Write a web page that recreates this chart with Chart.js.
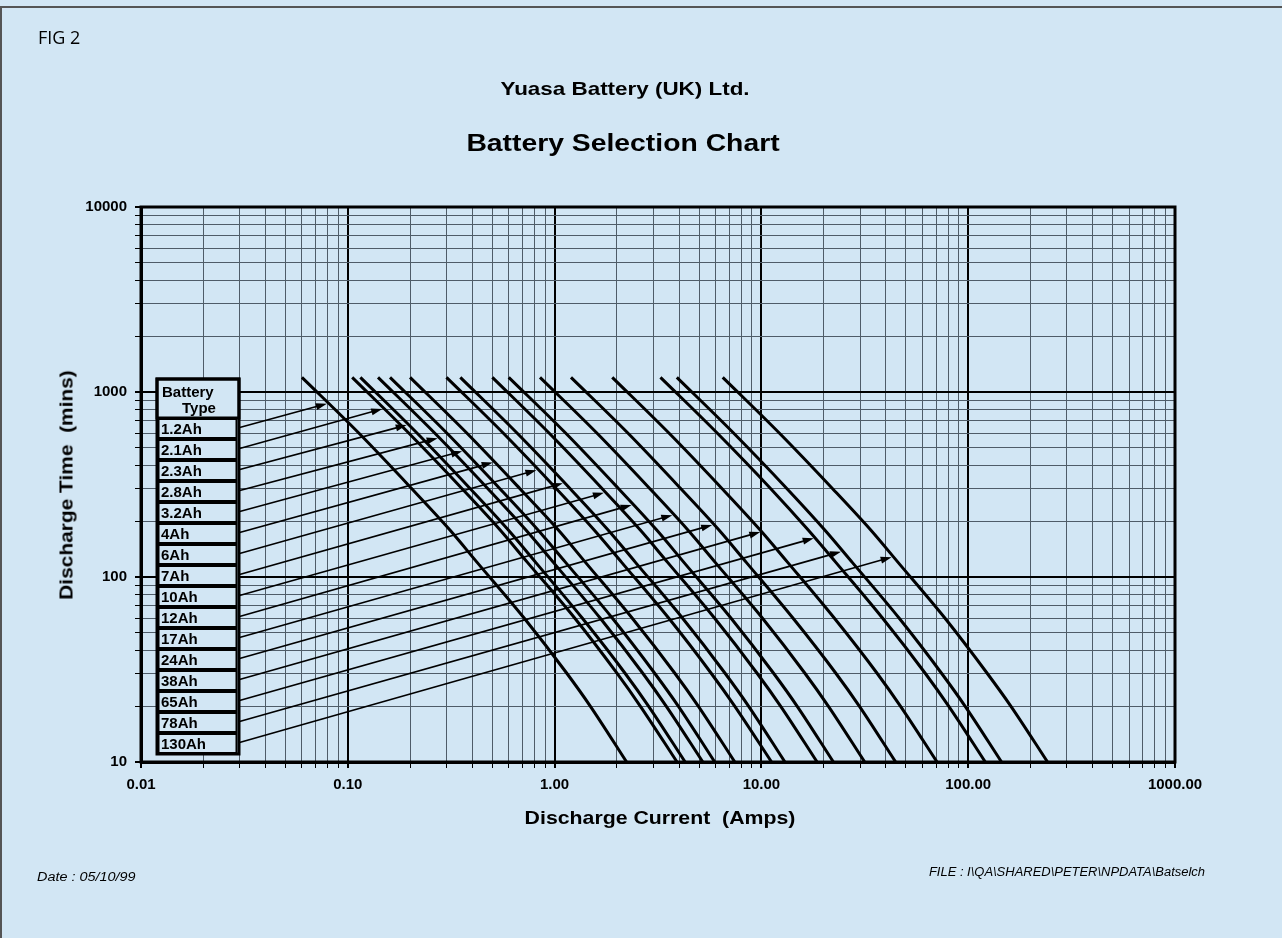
<!DOCTYPE html>
<html>
<head>
<meta charset="utf-8">
<title>Battery Selection Chart</title>
<script src="https://cdn.jsdelivr.net/npm/chart.js@4.4.1/dist/chart.umd.min.js"></script>
<style>
  html, body { margin: 0; padding: 0; background: #d2e6f4; }
  #page { position: relative; width: 1282px; height: 938px; overflow: hidden; background: #d2e6f4;
          font-family: 'Liberation Sans', Arial, sans-serif; color: #000; }
  #frame { position: absolute; left: 0; top: 6px; width: 1300px; height: 960px;
           border-left: 2px solid #555; border-top: 2px solid #555; }
  #chart { position: absolute; left: 0; top: 0; }
  .txt { position: absolute; white-space: nowrap; line-height: 1; }
  .bold { font-weight: bold; }
  .note { font-style: italic; font-size: 12px; }
</style>
</head>
<body>
<div id="page">
  <div id="frame"></div>
  <canvas id="chart" width="1282" height="938"></canvas>
  <div class="txt" style="left:38px; top:28px; font-family:'Open Sans', sans-serif; font-size:18px; transform:scaleY(1.05);">FIG 2</div>
  <div class="txt bold" style="left:625px; top:88px; font-size:19px; transform:translate(-50%,-50%) scaleX(1.18);">Yuasa Battery (UK) Ltd.</div>
  <div class="txt bold" style="left:623px; top:143px; font-size:24px; transform:translate(-50%,-50%) scaleX(1.18);">Battery Selection Chart</div>
  <div class="txt bold" style="left:660px; top:817px; font-size:19px; transform:translate(-50%,-50%) scaleX(1.12);">Discharge Current&nbsp; (Amps)</div>
  <div class="txt bold" style="left:66px; top:485px; font-size:19px; transform:translate(-50%,-50%) rotate(-90deg) scaleX(1.1);">Discharge Time&nbsp; (mins)</div>
  <div class="txt note" style="left:37px; top:871px; transform-origin:0 50%; transform:scaleX(1.2);">Date : 05/10/99</div>
  <div class="txt note" style="left:1205px; top:866px; transform-origin:100% 50%; transform:translateX(-100%) scaleX(1.08);">FILE : I\QA\SHARED\PETER\NPDATA\Batselch</div>
</div>
<script>
document.addEventListener('DOMContentLoaded', () => {

    // Battery types, in legend order
    const batteryTypes = ['1.2Ah', '2.1Ah', '2.3Ah', '2.8Ah', '3.2Ah', '4Ah', '6Ah', '7Ah',
                          '10Ah', '12Ah', '17Ah', '24Ah', '38Ah', '65Ah', '78Ah', '130Ah'];

    // Discharge time (mins) shared by every curve
    const dischargeMins = [1200, 600, 300, 180, 120, 60, 30, 20, 10];

    // Discharge current (Amps) at the times above
    const amps1_2Ah = [0.06, 0.113, 0.204, 0.311, 0.422, 0.712, 1.15, 1.49, 2.23];
    const amps2_1Ah = [0.105, 0.197, 0.357, 0.544, 0.739, 1.25, 2.01, 2.6, 3.91];
    const amps2_3Ah = [0.115, 0.216, 0.391, 0.596, 0.81, 1.36, 2.2, 2.85, 4.28];
    const amps2_8Ah = [0.14, 0.263, 0.476, 0.725, 0.986, 1.66, 2.68, 3.47, 5.21];
    const amps3_2Ah = [0.16, 0.301, 0.544, 0.829, 1.13, 1.9, 3.06, 3.97, 5.95];
    const amps4Ah = [0.2, 0.376, 0.68, 1.04, 1.41, 2.37, 3.83, 4.96, 7.44];
    const amps6Ah = [0.3, 0.564, 1.02, 1.55, 2.11, 3.56, 5.74, 7.44, 11.2];
    const amps7Ah = [0.35, 0.658, 1.19, 1.81, 2.46, 4.15, 6.7, 8.68, 13.0];
    const amps10Ah = [0.5, 0.94, 1.7, 2.59, 3.52, 5.93, 9.57, 12.4, 18.6];
    const amps12Ah = [0.6, 1.13, 2.04, 3.11, 4.22, 7.12, 11.5, 14.9, 22.3];
    const amps17Ah = [0.85, 1.6, 2.89, 4.4, 5.98, 10.1, 16.3, 21.1, 31.6];
    const amps24Ah = [1.2, 2.26, 4.08, 6.22, 8.45, 14.2, 23.0, 29.8, 44.6];
    const amps38Ah = [1.9, 3.57, 6.46, 9.84, 13.4, 22.5, 36.4, 47.1, 70.7];
    const amps65Ah = [3.25, 6.11, 11.1, 16.8, 22.9, 38.5, 62.2, 80.6, 121];
    const amps78Ah = [3.9, 7.33, 13.3, 20.2, 27.5, 46.3, 74.6, 96.7, 145];
    const amps130Ah = [6.5, 12.2, 22.1, 33.7, 45.8, 77.1, 124, 161, 242];

    const seriesAmps = [amps1_2Ah, amps2_1Ah, amps2_3Ah, amps2_8Ah, amps3_2Ah, amps4Ah, amps6Ah, amps7Ah,
                        amps10Ah, amps12Ah, amps17Ah, amps24Ah, amps38Ah, amps65Ah, amps78Ah, amps130Ah];

    // Where each legend arrow touches its curve (Amps, mins)
    const arrowAmps = [0.081, 0.150, 0.197, 0.278, 0.365, 0.513, 0.835, 1.12,
                       1.77, 2.41, 3.79, 5.91, 10.1, 18.3, 24.8, 43.6];
    const arrowMins = [865, 810, 663, 563, 479, 416, 378, 321,
                       285, 245, 216, 191, 175, 162, 137, 128];

    // Axis ticks
    const xDecades = [0.01, 0.1, 1, 10, 100, 1000];
    const xTickLabels = ['0.01', '0.10', '1.00', '10.00', '100.00', '1000.00'];
    const yDecades = [10, 100, 1000, 10000];
    const yTickLabels = ['10', '100', '1000', '10000'];
    const minorSteps = [1, 2, 3, 4, 5, 6, 7, 8, 9];

    const bg = '#d2e6f4';
    const tickFont = { family: "'Liberation Sans', Arial, sans-serif", size: 15, weight: 'bold' };

    // 1..9 x every decade, ending on the last decade
    function logTicks(decades) {
        const out = [];
        decades.forEach((d, i) => {
            if (i === decades.length - 1) { out.push({ value: d }); return; }
            minorSteps.forEach(m => out.push({ value: +(d * m).toPrecision(6) }));
        });
        return out;
    }
    function decadeIndex(decades, v) {
        return decades.findIndex(d => Math.abs(d - v) / d < 1e-6);
    }

    const datasets = seriesAmps.map((amps, i) => ({
        label: batteryTypes[i],
        data: amps.map((a, j) => ({ x: a, y: dischargeMins[j] })),
        borderColor: '#000',
        borderWidth: 3,
        pointRadius: 0,
        cubicInterpolationMode: 'monotone',
        fill: false
    }));

    // Battery type box + arrows to each curve
    const legendBoxPlugin = {
        id: 'legendBox',
        afterDatasetsDraw(chart) {
            const { ctx, chartArea: ca, scales: { x, y } } = chart;
            const left = ca.left + 16, top = ca.top + 172, w = 82, headH = 39, rowH = 21;
            const bottom = top + headH + rowH * batteryTypes.length;
            ctx.save();

            // arrows first, box sits over their tails
            ctx.strokeStyle = '#000';
            ctx.fillStyle = '#000';
            ctx.lineWidth = 1.7;
            batteryTypes.forEach((t, i) => {
                const sx = left + w - 3, sy = top + headH + rowH * i + rowH / 2;
                const ex = x.getPixelForValue(arrowAmps[i]) - 2;
                const ey = y.getPixelForValue(arrowMins[i]);
                const ang = Math.atan2(ey - sy, ex - sx);
                const c = Math.cos(ang), s = Math.sin(ang);
                ctx.beginPath();
                ctx.moveTo(sx, sy);
                ctx.lineTo(ex - 6 * c, ey - 6 * s);
                ctx.stroke();
                ctx.beginPath();
                ctx.moveTo(ex, ey);
                ctx.lineTo(ex - 11 * c + 3.5 * s, ey - 11 * s - 3.5 * c);
                ctx.lineTo(ex - 11 * c - 3.5 * s, ey - 11 * s + 3.5 * c);
                ctx.closePath();
                ctx.fill();
            });

            ctx.fillStyle = bg;
            ctx.fillRect(left, top, w, bottom - top);
            ctx.lineWidth = 3;
            ctx.strokeRect(left, top, w, headH);
            ctx.lineWidth = 2;
            batteryTypes.forEach((t, i) => {
                ctx.strokeRect(left + 1.5, top + headH + rowH * i + 1, w - 4, rowH - 2);
            });
            ctx.lineWidth = 3;
            ctx.strokeRect(left, top, w, bottom - top);

            ctx.fillStyle = '#000';
            ctx.font = "bold 15px 'Liberation Sans', Arial, sans-serif";
            ctx.textBaseline = 'alphabetic';
            ctx.textAlign = 'left';
            ctx.fillText('Battery', left + 5, top + 18);
            ctx.fillText('Type', left + 25, top + 34);
            batteryTypes.forEach((t, i) => {
                ctx.fillText(t, left + 4, top + headH + rowH * i + 16);
            });

            // plot frame
            ctx.lineWidth = 3;
            ctx.strokeRect(ca.left, ca.top, ca.right - ca.left, ca.bottom - ca.top);
            ctx.restore();
        }
    };

    const gridColor = (decades) => c => (c.tick && decadeIndex(decades, c.tick.value) >= 0 ? '#000' : '#4f5c68');
    const gridWidth = (decades) => c => (c.tick && decadeIndex(decades, c.tick.value) >= 0 ? 2 : 1);

    new Chart(document.getElementById('chart'), {
        type: 'line',
        data: { datasets },
        plugins: [legendBoxPlugin],
        options: {
            responsive: false,
            devicePixelRatio: 1,
            animation: false,
            layout: { padding: { left: 0, top: 207, right: 107, bottom: 0 } },
            plugins: { legend: { display: false }, tooltip: { enabled: false } },
            scales: {
                x: {
                    type: 'logarithmic',
                    min: 0.01,
                    max: 1000,
                    afterFit: s => { s.height = 176; },
                    afterBuildTicks: s => { s.ticks = logTicks(xDecades); },
                    grid: { color: gridColor(xDecades), lineWidth: gridWidth(xDecades),
                            tickLength: 6, tickColor: '#000' },
                    border: { display: true, color: '#000', width: 3 },
                    ticks: {
                        autoSkip: false,
                        maxRotation: 0,
                        padding: 8,
                        color: '#000',
                        font: tickFont,
                        callback: v => { const k = decadeIndex(xDecades, v); return k >= 0 ? xTickLabels[k] : ''; }
                    }
                },
                y: {
                    type: 'logarithmic',
                    min: 10,
                    max: 10000,
                    afterFit: s => { s.width = 141; },
                    afterBuildTicks: s => { s.ticks = logTicks(yDecades); },
                    grid: { color: gridColor(yDecades), lineWidth: gridWidth(yDecades),
                            tickLength: 6, tickColor: '#000' },
                    border: { display: true, color: '#000', width: 3 },
                    ticks: {
                        autoSkip: false,
                        padding: 8,
                        color: '#000',
                        font: tickFont,
                        callback: v => { const k = decadeIndex(yDecades, v); return k >= 0 ? yTickLabels[k] : ''; }
                    }
                }
            }
        }
    });
});
</script>
</body>
</html>
